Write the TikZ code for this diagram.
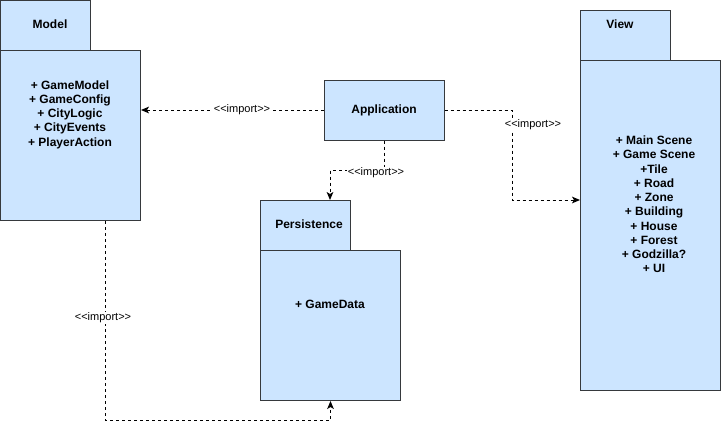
\documentclass[tikz,border=0pt]{standalone}
\usepackage{fontspec}
\setmainfont{Liberation Sans}
\newfontfamily\lblfont{Liberation Sans}
\usetikzlibrary{arrows.meta}
\definecolor{pkgfill}{RGB}{204,229,255}
\definecolor{pkgline}{RGB}{54,57,61}

\begin{document}
\begin{tikzpicture}[x=0.75pt,y=0.75pt,yscale=-1,xscale=1,
  pkg/.style={draw=pkgline,fill=pkgfill,line width=0.75pt,inner sep=0pt,anchor=north west},
  title/.style={inner sep=0.75pt,font=\fontsize{9}{11}\selectfont\bfseries},
  members/.style={inner sep=0.75pt,align=center,font=\fontsize{9}{10.7}\selectfont\bfseries},
  dep/.style={line width=0.75pt,dash pattern=on 2.25pt off 2.25pt,-{Stealth[length=6pt,width=5pt,inset=1.5pt]}},
  lbl/.style={inner sep=0.5pt,fill=white,font=\lblfont\fontsize{8.25}{9}\selectfont}]

\useasboundingbox (0,0) rectangle (721,429);

% Model
\node[pkg,minimum width=67.5pt,minimum height=37.5pt] (modeltab) at (0,0) {};
\node[pkg,minimum width=105pt,minimum height=127.5pt] (modelbody) at (0,50) {};
\node[title] (modeltitle) at (50,24) {Model};
\node[members] (modellist) at (70,114.5) {+ GameModel\\+ GameConfig\\+ CityLogic\\+ CityEvents\\+ PlayerAction};

% Persistence
\node[pkg,minimum width=67.5pt,minimum height=37.5pt] (perstab) at (260,200) {};
\node[pkg,minimum width=105pt,minimum height=112.5pt] (persbody) at (260,250) {};
\node[title] (perstitle) at (309,224) {Persistence};
\node[members] (perslist) at (330,304) {+ GameData};

% View
\node[pkg,minimum width=67.5pt,minimum height=37.5pt] (viewtab) at (580,10) {};
\node[pkg,minimum width=105pt,minimum height=247.5pt] (viewbody) at (580,60) {};
\node[title] (viewtitle) at (620,24) {View};
\node[members] (viewlist) at (654,204.5) {+ Main Scene\\+ Game Scene\\+Tile\\+ Road\\+ Zone\\+ Building\\+ House\\+ Forest\\+ Godzilla?\\+ UI};

% Application
\node[pkg,anchor=center,minimum width=90pt,minimum height=45pt,font=\fontsize{9}{11}\selectfont\bfseries] (app) at (384,110) {Application};

% imports
\coordinate (apppers) at (330,170);
\coordinate (appview) at (512,200);
\coordinate (modelpers) at (105,420);

\draw[dep] (app.west) -- (app.west -| modelbody.east);
\node[lbl] (lblappmodel) at (242,110) {<<import>>};

\draw[dep] (app.south) |- (apppers) -- (apppers |- perstab.north);
\node[lbl] (lblapppers) at (376,173) {<<import>>};

\draw[dep] (app.east) -| (appview) -- (appview -| viewbody.west);
\node[lbl] (lblappview) at (533,125) {<<import>>};

\draw[dep] (modelbody.south -| modelpers) -- (modelpers) -| (persbody.south);
\node[lbl] (lblmodelpers) at (103,318) {<<import>>};

\end{tikzpicture}
\end{document}
